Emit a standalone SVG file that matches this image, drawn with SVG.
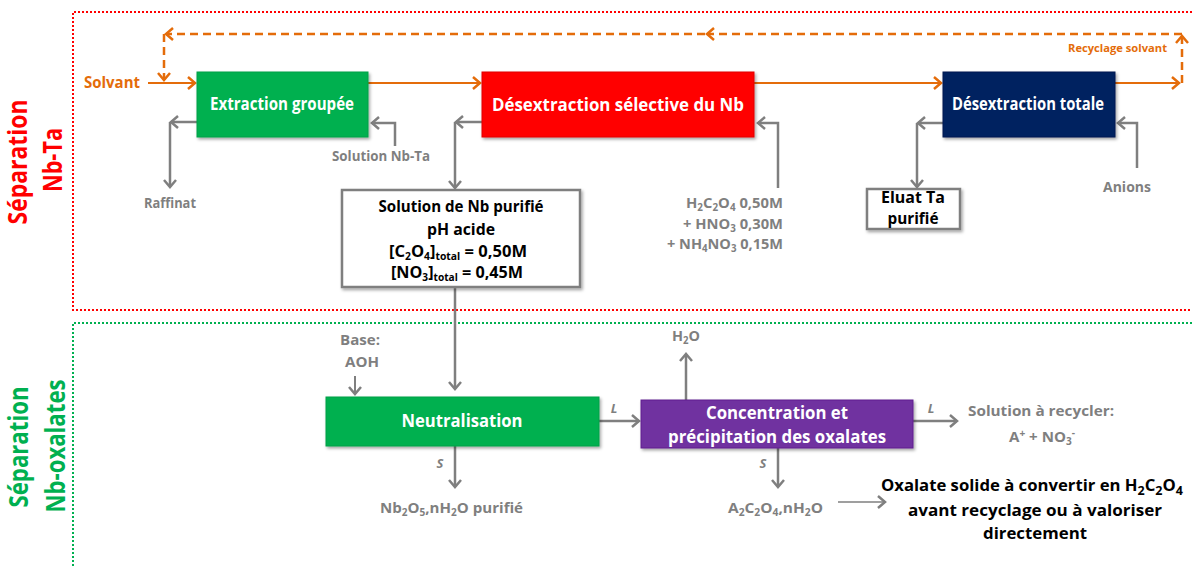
<svg xmlns="http://www.w3.org/2000/svg" width="1192" height="566" viewBox="0 0 1192 566">
<style>
text{font-family:"Open Sans","Noto Sans","Liberation Sans",sans-serif;font-weight:700}
.w{fill:#fff;font-size:17px}
.g{fill:#7F7F7F;font-size:15px}
.k{fill:#000;font-size:16px}
.o{fill:#E46C0A}
.it{font-style:italic;fill:#7F7F7F;font-size:13px}
.ga{fill:none;stroke:#7F7F7F;stroke-width:2.5;marker-end:url(#mg)}
.oa{fill:none;stroke:#E46C0A;stroke-width:2;marker-end:url(#mo)}
.od{fill:none;stroke:#E46C0A;stroke-width:2.5;stroke-dasharray:8 5;marker-end:url(#mo)}
.sh{filter:url(#ds)}
</style>
<defs>
<marker id="mg" markerUnits="userSpaceOnUse" markerWidth="14" markerHeight="16" refX="8" refY="7" orient="auto" overflow="visible"><path d="M1,1 L8,7 L1,13" fill="none" stroke="#7F7F7F" stroke-width="2.5"/></marker>
<marker id="mo" markerUnits="userSpaceOnUse" markerWidth="14" markerHeight="16" refX="8" refY="7" orient="auto" overflow="visible"><path d="M1,1 L8,7 L1,13" fill="none" stroke="#E46C0A" stroke-width="2.5"/></marker>
<filter id="ds" x="-10%" y="-20%" width="120%" height="150%"><feDropShadow dx="1.5" dy="2" stdDeviation="1.5" flood-color="#000" flood-opacity="0.35"/></filter>
</defs>
<rect width="1192" height="566" fill="#fff"/>

<!-- zones -->
<g id="zone-nbta">
<path d="M1200,12 H73 V310 H1200" fill="none" stroke="#FF0000" stroke-width="2" stroke-dasharray="2 2"/>
<text transform="translate(27,162) rotate(-90)" text-anchor="middle" font-size="27" fill="#FF0000" textLength="125" lengthAdjust="spacingAndGlyphs">Séparation</text>
<text transform="translate(62,160) rotate(-90)" text-anchor="middle" font-size="27" fill="#FF0000" textLength="64" lengthAdjust="spacingAndGlyphs">Nb-Ta</text>
</g>
<g id="zone-oxalates">
<path d="M73,570 V323 H1200" fill="none" stroke="#00B050" stroke-width="2" stroke-dasharray="2 2"/>
<text transform="translate(28,447) rotate(-90)" text-anchor="middle" font-size="26" fill="#00B050" textLength="121" lengthAdjust="spacingAndGlyphs">Séparation</text>
<text transform="translate(65,446) rotate(-90)" text-anchor="middle" font-size="26" fill="#00B050" textLength="133" lengthAdjust="spacingAndGlyphs">Nb-oxalates</text>
</g>

<!-- connectors -->
<g id="connectors">
<path class="oa" d="M148,83 H195"/>
<path class="oa" d="M368,83 H480"/>
<path class="oa" d="M754,83 H941"/>
<path class="oa" d="M1115,83 H1179"/>
<path class="od" d="M1182,83 V36"/>
<path class="od" d="M1182,34 H707"/>
<path class="od" d="M705,34 H166"/>
<path class="od" d="M164,34 V80"/>

<path class="ga" d="M197,122 H171"/>
<path class="ga" d="M170,122 V187"/>
<path class="ga" d="M395,146 V123 H372"/>
<path class="ga" d="M482,122 H456"/>
<path class="ga" d="M455,122 V188"/>
<path class="ga" d="M778,188 V123 H758"/>
<path class="ga" d="M943,123 H918"/>
<path class="ga" d="M917,123 V187"/>
<path class="ga" d="M1137,168 V123 H1118"/>
<path class="ga" d="M455,287 V389"/>
<path class="ga" d="M355,376 V394" style="stroke-width:2"/>
<path class="ga" d="M599,421 H639"/>
<path class="ga" d="M455,446 V487"/>
<path class="ga" d="M686,400 V354"/>
<path class="ga" d="M913,421 H957"/>
<path class="ga" d="M778,448 V487"/>
<path class="ga" d="M838,502 H885" style="stroke-width:1.5"/>
</g>

<!-- nodes -->
<g id="extraction">
<rect class="sh" x="197" y="72" width="171" height="65" fill="#00B050" stroke="#00A048" stroke-width="1"/>
<text class="w" x="282" y="110" text-anchor="middle" font-size="15" textLength="144" lengthAdjust="spacingAndGlyphs">Extraction groupée</text>
</g>
<g id="desext-selective">
<rect class="sh" x="482" y="72" width="272" height="65" fill="#FF0000" stroke="#E00000" stroke-width="1"/>
<text class="w" x="618" y="111" text-anchor="middle" font-size="17" textLength="252" lengthAdjust="spacingAndGlyphs">Désextraction sélective du Nb</text>
</g>
<g id="desext-totale">
<rect class="sh" x="943" y="72" width="172" height="65" fill="#002060" stroke="#001850" stroke-width="1"/>
<text class="w" x="1028" y="110" text-anchor="middle" font-size="15" textLength="152" lengthAdjust="spacingAndGlyphs">Désextraction totale</text>
</g>
<g id="solution-nb">
<rect class="sh" x="342" y="190" width="238" height="97" fill="#fff" stroke="#7F7F7F" stroke-width="2.5"/>
<text class="k" x="461" y="212" text-anchor="middle" font-size="15" textLength="165" lengthAdjust="spacingAndGlyphs">Solution de Nb purifié</text>
<text class="k" x="461" y="235" text-anchor="middle" font-size="15" textLength="68" lengthAdjust="spacingAndGlyphs">pH acide</text>
<text class="k" x="458" y="257" text-anchor="middle" font-size="15" textLength="138" lengthAdjust="spacingAndGlyphs">[C<tspan font-size="10" dy="3">2</tspan><tspan dy="-3">O</tspan><tspan font-size="10" dy="3">4</tspan><tspan dy="-3">]</tspan><tspan font-size="10" dy="3">total</tspan><tspan dy="-3"> = 0,50M</tspan></text>
<text class="k" x="457" y="278" text-anchor="middle" font-size="15" textLength="132" lengthAdjust="spacingAndGlyphs">[NO<tspan font-size="10" dy="3">3</tspan><tspan dy="-3">]</tspan><tspan font-size="10" dy="3">total</tspan><tspan dy="-3"> = 0,45M</tspan></text>
</g>
<g id="eluat-ta">
<rect class="sh" x="867" y="189" width="93" height="40" fill="#fff" stroke="#7F7F7F" stroke-width="2.5"/>
<text class="k" x="913" y="203" text-anchor="middle" font-size="12.5" textLength="64" lengthAdjust="spacingAndGlyphs">Eluat Ta</text>
<text class="k" x="913" y="224" text-anchor="middle" font-size="12.5" textLength="51" lengthAdjust="spacingAndGlyphs">purifié</text>
</g>
<g id="neutralisation">
<rect class="sh" x="326" y="397" width="273" height="49" fill="#00B050" stroke="#00A048" stroke-width="1"/>
<text class="w" x="462" y="427" text-anchor="middle" font-size="17" textLength="121" lengthAdjust="spacingAndGlyphs">Neutralisation</text>
</g>
<g id="concentration">
<rect class="sh" x="641" y="400" width="272" height="48" fill="#7030A0" stroke="#60208F" stroke-width="1"/>
<text class="w" x="777" y="419" text-anchor="middle" font-size="17" textLength="142" lengthAdjust="spacingAndGlyphs">Concentration et</text>
<text class="w" x="777" y="443" text-anchor="middle" font-size="17" textLength="218" lengthAdjust="spacingAndGlyphs">précipitation des oxalates</text>
</g>

<!-- labels -->
<g id="labels">
<text class="o" x="84" y="88" font-size="16" textLength="56" lengthAdjust="spacingAndGlyphs">Solvant</text>
<text class="o" x="1167" y="52" text-anchor="end" font-size="11" textLength="99" lengthAdjust="spacingAndGlyphs">Recyclage solvant</text>
<text class="g" x="170" y="208" text-anchor="middle" font-size="14" textLength="52" lengthAdjust="spacingAndGlyphs">Raffinat</text>
<text class="g" x="381" y="161" text-anchor="middle" font-size="14" textLength="98" lengthAdjust="spacingAndGlyphs">Solution Nb-Ta</text>
<text class="g" x="783" y="208" text-anchor="end" font-size="14" textLength="97" lengthAdjust="spacingAndGlyphs">H<tspan font-size="10" dy="3">2</tspan><tspan dy="-3">C</tspan><tspan font-size="10" dy="3">2</tspan><tspan dy="-3">O</tspan><tspan font-size="10" dy="3">4</tspan><tspan dy="-3"> 0,50M</tspan></text>
<text class="g" x="783" y="229" text-anchor="end" font-size="14" textLength="100" lengthAdjust="spacingAndGlyphs">+ HNO<tspan font-size="10" dy="3">3</tspan><tspan dy="-3"> 0,30M</tspan></text>
<text class="g" x="783" y="249" text-anchor="end" font-size="14" textLength="116" lengthAdjust="spacingAndGlyphs">+ NH<tspan font-size="10" dy="3">4</tspan><tspan dy="-3">NO</tspan><tspan font-size="10" dy="3">3</tspan><tspan dy="-3"> 0,15M</tspan></text>
<text class="g" x="1127" y="192" text-anchor="middle" font-size="14" textLength="48" lengthAdjust="spacingAndGlyphs">Anions</text>
<text class="g" x="360" y="345" text-anchor="middle" font-size="14" textLength="40" lengthAdjust="spacingAndGlyphs">Base:</text>
<text class="g" x="362" y="367" text-anchor="middle" font-size="14" textLength="34" lengthAdjust="spacingAndGlyphs">AOH</text>
<text class="it" x="614" y="413" text-anchor="middle">L</text>
<text class="it" x="440" y="468" text-anchor="middle">S</text>
<text class="it" x="931" y="413" text-anchor="middle">L</text>
<text class="it" x="763" y="468" text-anchor="middle">S</text>
<text class="g" x="686" y="341" text-anchor="middle" font-size="14" textLength="28" lengthAdjust="spacingAndGlyphs">H<tspan font-size="10" dy="3">2</tspan><tspan dy="-3">O</tspan></text>
<text class="g" x="968" y="416" textLength="146" lengthAdjust="spacingAndGlyphs">Solution à recycler:</text>
<text class="g" x="1042" y="442" text-anchor="middle" textLength="66" lengthAdjust="spacingAndGlyphs">A<tspan font-size="10" dy="-5">+</tspan><tspan dy="5"> + NO</tspan><tspan font-size="10" dy="3">3</tspan><tspan font-size="10" dy="-9">-</tspan></text>
<text class="g" x="380" y="513" textLength="143" lengthAdjust="spacingAndGlyphs">Nb<tspan font-size="10" dy="3">2</tspan><tspan dy="-3">O</tspan><tspan font-size="10" dy="3">5</tspan><tspan dy="-3">,nH</tspan><tspan font-size="10" dy="3">2</tspan><tspan dy="-3">O purifié</tspan></text>
<text class="g" x="728" y="513" textLength="95" lengthAdjust="spacingAndGlyphs">A<tspan font-size="10" dy="3">2</tspan><tspan dy="-3">C</tspan><tspan font-size="10" dy="3">2</tspan><tspan dy="-3">O</tspan><tspan font-size="10" dy="3">4</tspan><tspan dy="-3">,nH</tspan><tspan font-size="10" dy="3">2</tspan><tspan dy="-3">O</tspan></text>
<text class="k" x="881" y="491" font-size="17" textLength="302" lengthAdjust="spacingAndGlyphs">Oxalate solide à convertir en H<tspan font-size="12" dy="4">2</tspan><tspan dy="-4">C</tspan><tspan font-size="12" dy="4">2</tspan><tspan dy="-4">O</tspan><tspan font-size="12" dy="4">4</tspan></text>
<text class="k" x="1035" y="516" text-anchor="middle" font-size="17" textLength="254" lengthAdjust="spacingAndGlyphs">avant recyclage ou à valoriser</text>
<text class="k" x="1035" y="539" text-anchor="middle" font-size="17" textLength="104" lengthAdjust="spacingAndGlyphs">directement</text>
</g>
</svg>
